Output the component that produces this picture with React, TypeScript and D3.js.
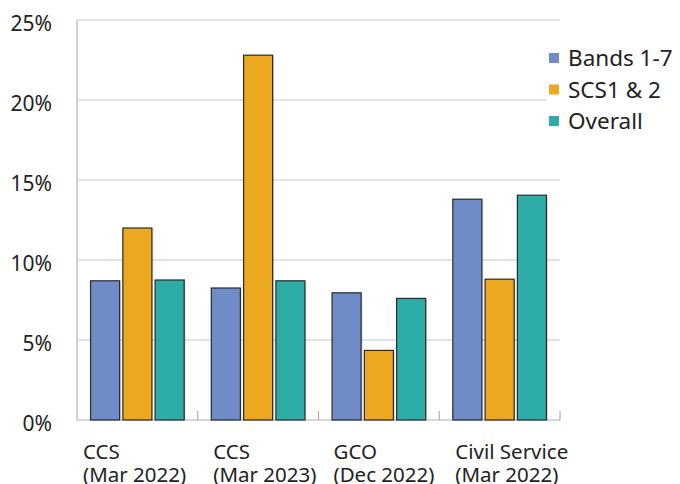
import React from "react";
import * as d3 from "d3";

const categories = ["CCS|(Mar 2022)", "CCS|(Mar 2023)", "GCO|(Dec 2022)", "Civil Service|(Mar 2022)"];
const seriesNames = ["Bands 1-7", "SCS1 & 2", "Overall"];
const bands17 = [8.7, 8.25, 7.95, 13.8];
const scs12 = [12.0, 22.8, 4.35, 8.8];
const overall = [8.75, 8.7, 7.6, 14.05];
const yTicks = [0, 5, 10, 15, 20, 25];
const colors = ["#6f8bc8", "#eca820", "#2eaca8"];
const labelNudge = [6, 15.5, 15, 16];

const W = 680;
const H = 484;
const FONT = "'Noto Sans', sans-serif";

export default function App() {
  const seriesValues = [bands17, scs12, overall];
  const x = d3.scaleBand<string>().domain(categories).range([77, 560]).paddingInner(0).paddingOuter(0);
  const xi = d3
    .scaleBand<string>()
    .domain(seriesNames)
    .range([0, x.bandwidth()])
    .paddingInner(0.1)
    .paddingOuter(0.42);
  const y = d3.scaleLinear().domain([0, 25]).range([420, 20]);

  return (
    <svg
      width={W}
      height={H}
      style={{ position: "absolute", left: 0, top: 0, display: "block", background: "#fff" }}
      fontFamily={FONT}
    >
      {yTicks.map((t) => (
        <line
          key={"g" + t}
          x1={77}
          x2={560}
          y1={y(t)}
          y2={y(t)}
          stroke={t === 0 ? "#b0b0b0" : "#c8c8c8"}
          strokeWidth={1.2}
        />
      ))}
      <line x1={77} x2={77} y1={y(25)} y2={y(0)} stroke="#b0b0b0" strokeWidth={1.2} />
      {categories.map((c) => (
        <line
          key={"t" + c}
          x1={(x(c) as number) + x.bandwidth()}
          x2={(x(c) as number) + x.bandwidth()}
          y1={y(0) - 9}
          y2={y(0)}
          stroke="#b0b0b0"
          strokeWidth={1.2}
        />
      ))}
      {yTicks.map((t) => (
        <text
          key={"l" + t}
          x={52}
          y={y(t)}
          dy="0.5em"
          textAnchor="end"
          fontSize={21}
          fill="#222"
        >
          {t + "%"}
        </text>
      ))}
      {categories.map((c, ci) =>
        seriesNames.map((s, si) => {
          const v = seriesValues[si][ci];
          const bx = (x(c) as number) + (xi(s) as number);
          const by = y(v);
          const bh = y(0) - y(v);
          return (
            <g key={c + s}>
              <rect x={bx + 1.5} y={by + 1.5} width={xi.bandwidth()} height={bh - 1.5} fill="#000" opacity={0.12} />
              <rect
                x={bx}
                y={by}
                width={xi.bandwidth()}
                height={bh}
                fill={colors[si]}
                stroke="#2a2a2a"
                strokeWidth={1.2}
              />
            </g>
          );
        })
      )}
      {categories.map((c, ci) => {
        const [l1, l2] = c.split("|");
        const lx = (x(c) as number) + labelNudge[ci];
        return (
          <g key={"c" + c}>
            <text x={lx} y={459} fontSize={20.5} fill="#222">
              {l1}
            </text>
            <text x={lx} y={482} fontSize={20.5} fill="#222">
              {l2}
            </text>
          </g>
        );
      })}
      <rect x={546} y={40} width={134} height={100} fill="#fff" />
      {seriesNames.map((s, i) => (
        <g key={"lg" + s} transform={`translate(549, ${58 + i * 31.5})`}>
          <rect x={0} y={-5} width={10} height={10} fill={colors[i]} />
          <text x={19} y={0} dy="0.36em" fontSize={22.5} fill="#222">
            {s}
          </text>
        </g>
      ))}
    </svg>
  );
}
